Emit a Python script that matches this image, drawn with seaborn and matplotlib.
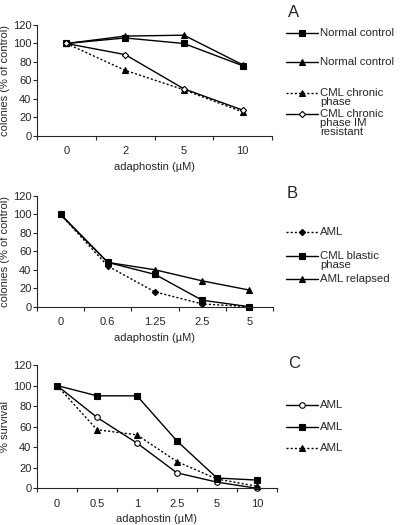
import matplotlib
matplotlib.use("Agg")
import matplotlib.pyplot as plt
import seaborn as sns
from matplotlib.lines import Line2D
from matplotlib.ticker import FixedLocator

W, H = 400, 525

# -----------------------------
# DATA
# -----------------------------
# panel A
doses_a = ["0", "2", "5", "10"]
normal_sq_a = [100, 106, 100, 76]
normal_tri_a = [100, 108, 109, 77]
cml_chronic_a = [100, 71, 50, 26]
cml_im_res_a = [100, 88, 51, 28]
labels_a = ["Normal control", "Normal control", "CML chronic\nphase",
            "CML chronic\nphase IM\nresistant"]

# panel B
doses_b = ["0", "0.6", "1.25", "2.5", "5"]
aml_b = [100, 44, 16, 3, 0]
cml_blastic_b = [100, 48, 35, 7, 0]
aml_relapsed_b = [100, 48, 40, 28, 18]
labels_b = ["AML", "CML blastic\nphase", "AML relapsed"]

# panel C
doses_c = ["0", "0.5", "1", "2.5", "5", "10"]
aml_open_c = [100, 69, 44, 15, 6, 0]
aml_sq_c = [100, 90, 90, 46, 10, 8]
aml_tri_c = [100, 57, 52, 26, 9, 2]
labels_c = ["AML", "AML", "AML"]

# -----------------------------
# STYLES
# -----------------------------
SOLID = "-"
DOTTED = (0, (1.5, 1.5))
SQUARE = dict(marker="s", markersize=4, markerfacecolor="black")
TRI = dict(marker="^", markersize=4.5, markerfacecolor="black")
OPEN_DIA = dict(marker="D", markersize=3.2, markerfacecolor="white")
FILL_DIA = dict(marker="D", markersize=3.2, markerfacecolor="black")
OPEN_CIRC = dict(marker="o", markersize=4, markerfacecolor="white")

sns.set_style("ticks")
plt.rcParams["font.family"] = ["Liberation Sans", "DejaVu Sans"]


def px_rect(left, top, right, bottom):
    return [left / W, 1 - bottom / H, (right - left) / W, (bottom - top) / H]


def draw_series(ax, doses, values, ls, mk):
    sns.lineplot(x=doses, y=values, ax=ax, sort=False, color="black",
                 linestyle=ls, linewidth=1.0, markeredgecolor="black",
                 markeredgewidth=0.8, clip_on=False, **mk)


def style_axis(ax, n, ylabel, width_px):
    ax.set_xlim(-0.5, n - 0.5)
    ax.set_ylim(0, 120)
    ax.set_yticks(range(0, 121, 20))
    ax.xaxis.set_minor_locator(FixedLocator([i - 0.5 for i in range(n + 1)]))
    ax.tick_params(axis="x", which="major", length=0, pad=7.5, labelsize=8)
    ax.tick_params(axis="x", which="minor", length=3, width=0.8, direction="out")
    ax.tick_params(axis="y", length=3, width=0.8, pad=1, labelsize=8)
    for s in ["left", "bottom"]:
        ax.spines[s].set_linewidth(0.8)
    sns.despine(ax=ax)
    ax.set_xlabel("adaphostin (µM)", fontsize=8, labelpad=4)
    ax.set_ylabel(ylabel, fontsize=8)
    ax.yaxis.set_label_coords(-(37 - 10) / width_px, 0.5)


def legend_key(fig, y_px, label, ls, mk):
    y = 1 - y_px / H
    fig.add_artist(Line2D([286 / W, 302 / W, 318 / W], [y, y, y],
                          transform=fig.transFigure, color="black",
                          linestyle=ls, linewidth=1.0, markevery=[1],
                          markeredgecolor="black", markeredgewidth=0.8, **mk))
    fig.text(320 / W, 1 - (y_px - 5) / H, label, fontsize=8.2,
             va="top", ha="left", linespacing=0.85)


fig = plt.figure(figsize=(W / 100, H / 100), dpi=100)

# -----------------------------
# PANEL A
# -----------------------------
ax_a = fig.add_axes(px_rect(37, 25, 272, 136))
styles_a = [(SOLID, SQUARE), (SOLID, TRI), (DOTTED, TRI), (SOLID, OPEN_DIA)]
for vals, (ls, mk) in zip([normal_sq_a, normal_tri_a, cml_chronic_a, cml_im_res_a], styles_a):
    draw_series(ax_a, doses_a, vals, ls, mk)
style_axis(ax_a, len(doses_a), "colonies (% of control)", 235)
for y_px, lab, (ls, mk) in zip([33, 62, 93, 114], labels_a, styles_a):
    legend_key(fig, y_px, lab, ls, mk)
fig.text(288 / W, 1 - 17 / H, "A", fontsize=12, va="baseline")

# -----------------------------
# PANEL B
# -----------------------------
ax_b = fig.add_axes(px_rect(37, 196, 273, 306.7))
styles_b = [(DOTTED, FILL_DIA), (SOLID, SQUARE), (SOLID, TRI)]
for vals, (ls, mk) in zip([aml_b, cml_blastic_b, aml_relapsed_b], styles_b):
    draw_series(ax_b, doses_b, vals, ls, mk)
style_axis(ax_b, len(doses_b), "colonies (% of control)", 236)
for y_px, lab, (ls, mk) in zip([232, 256, 279], labels_b, styles_b):
    legend_key(fig, y_px, lab, ls, mk)
fig.text(287 / W, 1 - 198 / H, "B", fontsize=12, va="baseline")

# -----------------------------
# PANEL C
# -----------------------------
ax_c = fig.add_axes(px_rect(37, 365, 277, 488.3))
styles_c = [(SOLID, OPEN_CIRC), (SOLID, SQUARE), (DOTTED, TRI)]
for vals, (ls, mk) in zip([aml_open_c, aml_sq_c, aml_tri_c], styles_c):
    draw_series(ax_c, doses_c, vals, ls, mk)
style_axis(ax_c, len(doses_c), "% survival", 240)
for y_px, lab, (ls, mk) in zip([405, 427, 448], labels_c, styles_c):
    legend_key(fig, y_px, lab, ls, mk)
fig.text(288 / W, 1 - 368 / H, "C", fontsize=12, va="baseline")

fig.savefig("out.png", dpi=100)
plt.close(fig)
